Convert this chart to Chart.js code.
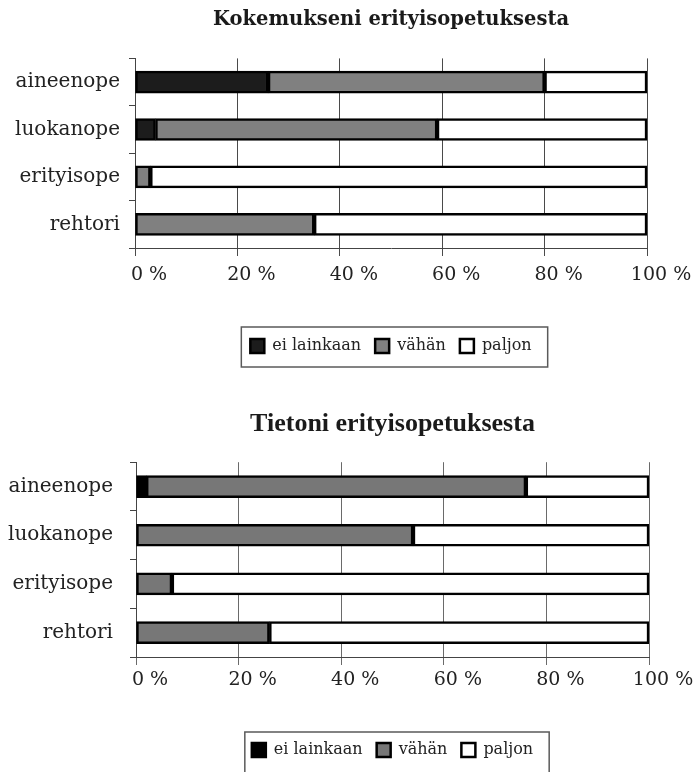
<!DOCTYPE html>
<html lang="fi">
<head>
<meta charset="utf-8">
<title>Erityisopetus – kokemukset ja tiedot</title>
<script src="https://cdn.jsdelivr.net/npm/chart.js@4/dist/chart.umd.min.js"></script>
<style>
  html, body { margin: 0; padding: 0; background: #fff; overflow: hidden; width: 696px; height: 772px; }
  .panel { position: absolute; left: 0; }
  #p1 { top: 0; }
  #p2 { top: 390px; }
  canvas { display: block; }
</style>
</head>
<body>
<div class="panel" id="p1"><canvas id="c1" width="696" height="390"></canvas></div>
<div class="panel" id="p2"><canvas id="c2" width="696" height="382"></canvas></div>
<script>
// Respondent groups (top to bottom)
const categories = ['aineenope', 'luokanope', 'erityisope', 'rehtori'];
const seriesNames = ['ei lainkaan', 'vähän', 'paljon'];
const xTicks = [0, 20, 40, 60, 80, 100];

// Kokemukseni erityisopetuksesta (% of answers)
const kokemusEiLainkaan = [26, 4, 0, 0];
const kokemusVahan      = [54, 55, 3, 35];
const kokemusPaljon     = [20, 41, 97, 65];

// Tietoni erityisopetuksesta (% of answers)
const tietoEiLainkaan = [2, 0, 0, 0];
const tietoVahan      = [74, 54, 7, 26];
const tietoPaljon     = [24, 46, 93, 74];

const SERIF = "'DejaVu Serif', 'Liberation Serif', serif";

// Draws a thin frame around the legend items
const legendFrame = {
  id: 'legendFrame',
  afterDraw(chart, args, opts) {
    const lg = chart.legend;
    if (!lg || !lg.legendHitBoxes || !lg.legendHitBoxes.length) return;
    const hb = lg.legendHitBoxes;
    const left = Math.min(...hb.map(h => h.left)) - opts.padLeft;
    const right = Math.max(...hb.map(h => h.left + h.width)) + opts.padRight;
    const top = hb[0].top - opts.padTop;
    const bottom = hb[0].top + hb[0].height + opts.padBottom;
    const ctx = chart.ctx;
    ctx.save();
    ctx.strokeStyle = '#5a5a5a';
    ctx.lineWidth = 1.5;
    ctx.strokeRect(left, top, right - left, bottom - top);
    ctx.restore();
  }
};

function makeChart(canvasId, cfg) {
  const datasets = [cfg.eiLainkaan, cfg.vahan, cfg.paljon].map((vals, i) => ({
    label: seriesNames[i],
    data: vals,
    backgroundColor: cfg.colors[i],
    borderColor: '#000',
    borderWidth: 2.5,
    borderSkipped: false,
    barThickness: 22
  }));

  return new Chart(document.getElementById(canvasId), {
    type: 'bar',
    data: { labels: categories, datasets },
    plugins: [legendFrame],
    options: {
      indexAxis: 'y',
      responsive: false,
      animation: false,
      devicePixelRatio: 1,
      layout: { padding: { left: 0, right: cfg.padRight, top: 0, bottom: cfg.padBottom } },
      scales: {
        x: {
          stacked: true,
          min: 0,
          max: 100,
          afterBuildTicks(scale) { scale.ticks = xTicks.map(v => ({ value: v })); },
          afterFit(scale) { scale.height = cfg.xAxisHeight; },
          ticks: {
            callback: v => v + ' %',
            font: { family: SERIF, size: 19 },
            color: '#222',
            padding: cfg.xTickPad,
            labelOffset: 14,
            maxRotation: 0,
            autoSkip: false
          },
          grid: { color: cfg.gridColor, lineWidth: 1, drawTicks: true, tickLength: 8, tickColor: cfg.gridColor },
          border: { display: true, color: '#444', width: 1 }
        },
        y: {
          stacked: true,
          afterFit(scale) { scale.width = cfg.yAxisWidth; },
          ticks: {
            font: { family: SERIF, size: 20 },
            color: '#222',
            padding: cfg.yTickPad
          },
          grid: { offset: true, drawOnChartArea: false, drawTicks: true, tickLength: 6, color: '#444' },
          border: { display: true, color: '#444', width: 1 }
        }
      },
      plugins: {
        title: {
          display: true,
          fullSize: false,
          text: cfg.title,
          color: '#1a1a1a',
          font: cfg.titleFont,
          padding: cfg.titlePad
        },
        legend: {
          position: 'bottom',
          fullSize: false,
          labels: {
            font: { family: SERIF, size: 16 },
            color: '#222',
            boxWidth: 14,
            boxHeight: 14,
            padding: 14
          }
        },
        tooltip: { enabled: false },
        legendFrame: cfg.frame
      }
    }
  });
}

makeChart('c1', {
  title: 'Kokemukseni erityisopetuksesta',
  titleFont: { family: SERIF, size: 19.5, weight: 'bold' },
  titlePad: { top: 8, bottom: 27 },
  eiLainkaan: kokemusEiLainkaan,
  vahan: kokemusVahan,
  paljon: kokemusPaljon,
  colors: ['#1c1c1c', '#808080', '#ffffff'],
  gridColor: '#4a4a4a',
  padRight: 49,
  padBottom: 26,
  xAxisHeight: 76,
  xTickPad: 8,
  yAxisWidth: 135,
  yTickPad: 9,
  frame: { padLeft: 9, padRight: 16, padTop: 11, padBottom: 13 }
});

makeChart('c2', {
  title: 'Tietoni erityisopetuksesta',
  titleFont: { family: "'Liberation Serif', 'Times New Roman', serif", size: 26, weight: 'bold' },
  titlePad: { top: 19, bottom: 22 },
  eiLainkaan: tietoEiLainkaan,
  vahan: tietoVahan,
  paljon: tietoPaljon,
  colors: ['#000000', '#777777', '#ffffff'],
  gridColor: '#6a6a6a',
  padRight: 47,
  padBottom: 4,
  xAxisHeight: 71,
  xTickPad: 4,
  yAxisWidth: 136,
  yTickPad: 17,
  frame: { padLeft: 7, padRight: 16, padTop: 10, padBottom: 30 }
});
</script>
</body>
</html>
